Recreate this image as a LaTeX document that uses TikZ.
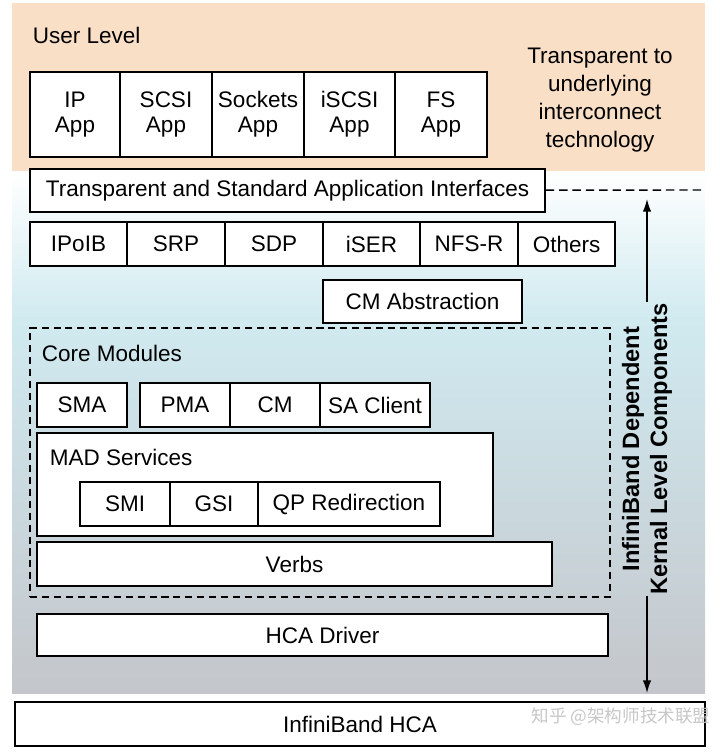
\documentclass[tikz,border=0pt]{standalone}
\usepackage{fontspec}
\setmainfont{Liberation Sans}
\newfontfamily\cjkfont{Noto Sans CJK SC}
\usetikzlibrary{arrows.meta}

\definecolor{peach}{RGB}{250,223,199}
\definecolor{iceblue}{RGB}{208,234,240}
\definecolor{steelgray}{RGB}{196,198,203}

% box from (x1,y1) to (x2,y2), pixel units
\newcommand{\blk}[7][]{%
  \node[box, #1, minimum width={(#5-#3)*0.025cm}, minimum height={(#6-#4)*0.025cm}]
    (#2) at ({(#3+#5)/2}, {(#4+#6)/2}) {#7};}

\begin{document}
\begin{tikzpicture}[x=0.025cm, y=-0.025cm,
    txt/.style={font=\fontsize{16}{18}\selectfont},
    box/.style={draw, line width=1pt, fill=white, inner sep=0pt, align=center, txt},
    core/.style={draw, line width=1pt, dash pattern=on 5pt off 3.5pt, inner sep=0pt}]
    \useasboundingbox (0, 0) rectangle (720, 753);

    % backgrounds
    \fill[peach] (12, 3) rectangle (705, 172);
    \shade[top color=white, bottom color=iceblue] (12, 172) rectangle (705, 320);
    \shade[top color=iceblue, bottom color=steelgray] (12, 320) rectangle (705, 693);

    % user level
    \node[txt, anchor=west] (user) at (28, 35) {User Level};
    \blk{ip}{30}{72}{120}{157}{IP\\App}
    \blk{scsi}{120}{72}{212}{157}{SCSI\\App}
    \blk{sock}{212}{72}{304}{157}{Sockets\\App}
    \blk{iscsi}{304}{72}{395}{157}{iSCSI\\App}
    \blk{fs}{395}{72}{487}{157}{FS\\App}
    \node[txt, align=center, font=\fontsize{16}{20}\selectfont] (transp) at (600, 100)
        {Transparent to\\underlying\\interconnect\\technology};

    % kernel level
    \blk{api}{30}{169}{545}{212}{Transparent and Standard Application Interfaces}
    \coordinate (dashend) at (705, 190);
    \draw[line width=1pt, dash pattern=on 6pt off 3.5pt] (api) -- (dashend) ;
    \blk{ipoib}{30}{222}{127}{266}{IPoIB}
    \blk{srp}{127}{222}{225}{266}{SRP}
    \blk{sdp}{225}{222}{323}{266}{SDP}
    \blk{iser}{323}{222}{420}{266}{iSER}
    \blk{nfsr}{420}{222}{518}{266}{NFS-R}
    \blk{others}{518}{222}{615}{266}{Others}
    \blk{cmabs}{323}{280}{522}{323}{CM Abstraction}

    % core modules
    \node[core, minimum width={580*0.025cm}, minimum height={269*0.025cm}] (coremod) at (320, 462.5) {};
    \node[txt, anchor=west] (corelbl) at (37, 353) {Core Modules};
    \blk{sma}{37}{383}{127}{427}{SMA}
    \blk{pma}{140}{383}{230}{427}{PMA}
    \blk{cm}{230}{383}{320}{427}{CM}
    \blk{sacl}{320}{383}{430}{427}{SA Client}
    \blk{mad}{37}{433}{493}{536}{}
    \node[txt, anchor=west] (madlbl) at (45, 457) {MAD Services};
    \blk{smi}{80}{482}{170}{526}{SMI}
    \blk{gsi}{170}{482}{258}{526}{GSI}
    \blk{qpr}{258}{482}{440}{526}{QP Redirection}
    \blk{verbs}{37}{542}{552}{586}{Verbs}
    \blk{hcad}{37}{614}{608}{656}{HCA Driver}
    \blk{hca}{15}{702}{705}{746}{InfiniBand HCA}

    % kernel level arrow
    \node[rotate=90, align=center, inner sep=1pt,
          font=\bfseries\fontsize{16.8}{20}\selectfont] (kern) at (647, 449)
        {InfiniBand Dependent\\Kernal Level Components};
    \coordinate (arrtop) at (647, 199);
    \coordinate (arrbot) at (647, 693);
    \draw[line width=1pt, -{Latex[length=9pt, width=6pt]}] (kern.east) -- (arrtop);
    \draw[line width=1pt, -{Latex[length=9pt, width=6pt]}] (kern.west) -- (arrbot);

    \node[text=black!22, font=\cjkfont\fontsize{12.5}{14}\selectfont] (mark) at (621, 717) {知乎 @架构师技术联盟};
\end{tikzpicture}
\end{document}
